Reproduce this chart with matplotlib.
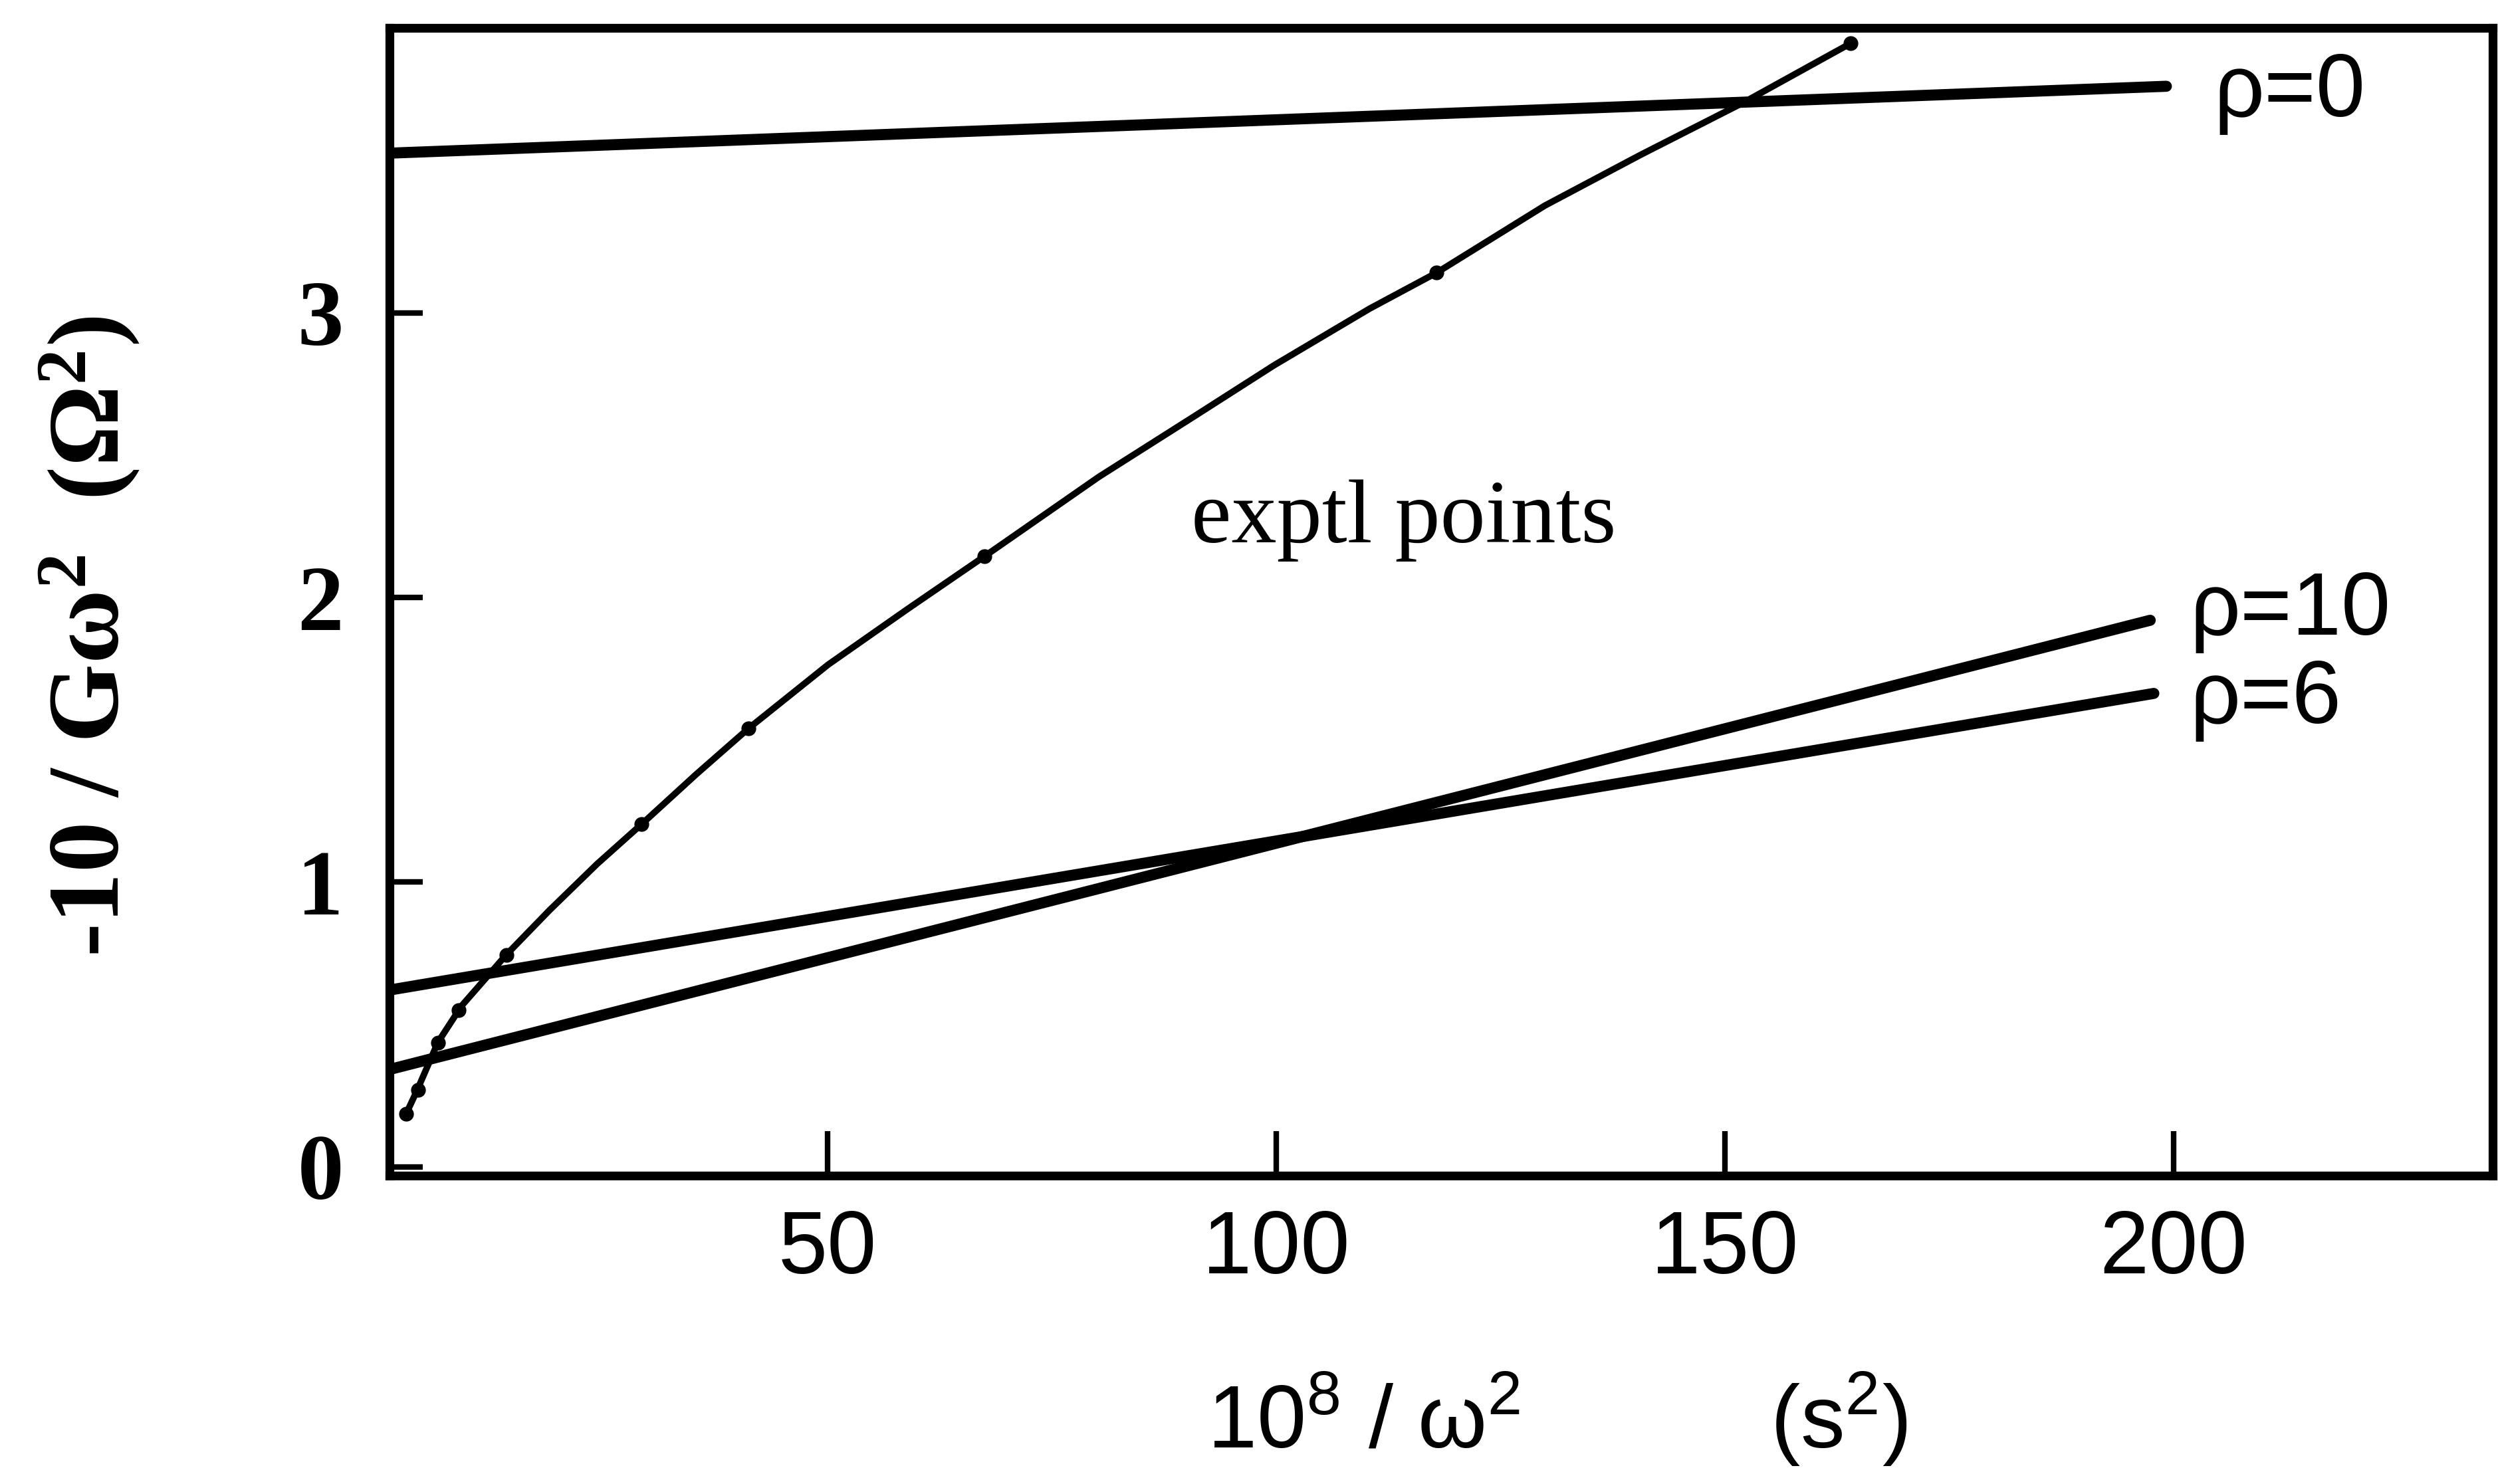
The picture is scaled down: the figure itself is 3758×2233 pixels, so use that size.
import numpy as np
import matplotlib
matplotlib.use('Agg')
import matplotlib.pyplot as plt
from matplotlib import font_manager as fm

# fonts: serif for the y side, narrow sans for the x side and rho labels
names = set(f.name for f in fm.fontManager.ttflist)
SERIF = 'Liberation Serif'
NARROW = 'Liberation Sans Narrow' if 'Liberation Sans Narrow' in names else 'Liberation Sans'
plt.rcParams['mathtext.fontset'] = 'custom'
plt.rcParams['mathtext.rm'] = SERIF
plt.rcParams['mathtext.it'] = SERIF
plt.rcParams['mathtext.bf'] = SERIF + ':bold'
plt.rcParams['mathtext.sf'] = NARROW

# experimental curve, 10^8/w^2 vs -10/(G w^2)
curve_x = [3.02, 4.26, 6.57, 9.23, 14.20, 19.00, 24.32, 29.29, 35.33, 41.19, 50.06,
           58.94, 67.46, 80.24, 90.89, 99.77, 110.42, 117.88, 129.95, 140.60, 152.14, 164.03]
curve_y = [0.185, 0.269, 0.437, 0.566, 0.745, 0.901, 1.064, 1.204, 1.378, 1.540, 1.764,
           1.960, 2.144, 2.424, 2.637, 2.816, 3.015, 3.141, 3.377, 3.555, 3.740, 3.947]

# measured points marked on the curve
pts_x = [3.02, 4.4, 6.57, 8.9, 14.20, 29.29, 41.19, 67.46, 117.88, 164.03]
pts_y = [0.185, 0.27, 0.437, 0.55, 0.745, 1.204, 1.540, 2.144, 3.141, 3.947]

# model lines for different rho (end points)
rho_labels = ['\u03c1=0', '\u03c1=10', '\u03c1=6']
rho_x0 = [1.2, 1.2, 1.2]
rho_x1 = [199.2, 197.4, 197.8]
rho_y0 = [3.561, 0.342, 0.621]
rho_y1 = [3.796, 1.920, 1.663]
rho_label_xy = [(204.5, 3.77), (201.8, 1.95), (201.8, 1.64)]

xticks = [50, 100, 150, 200]
yticks = [0, 1, 2, 3]

fig = plt.figure(figsize=(37.58, 22.33), dpi=100)
ax = fig.add_axes([0.156, 0.208, 0.842, 0.773])

for x0, x1, y0, y1, lab, (lx, ly) in zip(rho_x0, rho_x1, rho_y0, rho_y1, rho_labels, rho_label_xy):
    ax.plot([x0, x1], [y0, y1], color='black', lw=12, solid_capstyle='round')
    ax.text(lx, ly, lab, fontsize=96, family=NARROW, ha='left', va='center')

ax.plot(curve_x, curve_y, color='black', lw=7, solid_capstyle='round',
        solid_joinstyle='round')
ax.plot(pts_x, pts_y, 'o', color='black', ms=15)

ax.text(90.5, 2.27, 'exptl points', fontsize=98, family=SERIF, ha='left', va='center')

ax.set_xlim(1.2, 235.6)
ax.set_ylim(-0.03, 4.0)

ax.set_xticks(xticks)
ax.set_xticklabels([str(t) for t in xticks], family=NARROW, fontsize=96)
ax.set_yticks(yticks)
ax.set_yticklabels([str(t) for t in yticks], family=SERIF, fontsize=100, weight='bold')
ax.tick_params(axis='x', direction='in', length=48, width=6, pad=36)
ax.tick_params(axis='y', direction='in', length=36, width=6, pad=50)

for s in ax.spines.values():
    s.set_linewidth(9.5)

ax.set_ylabel(r'-10 / G$\mathbf{\omega^2}$  ($\mathbf{\Omega^2}$)', family=SERIF,
              fontsize=110, weight='bold')
ax.yaxis.set_label_coords(-0.118, 0.47)
ax.set_xlabel(r'$\mathsf{10^8}$ / $\mathsf{\omega^2}$          ($\mathsf{s^2}$)',
              family=NARROW, fontsize=96)
ax.xaxis.set_label_coords(0.555, -0.17)

fig.savefig('out.png', dpi=100, facecolor='white')
